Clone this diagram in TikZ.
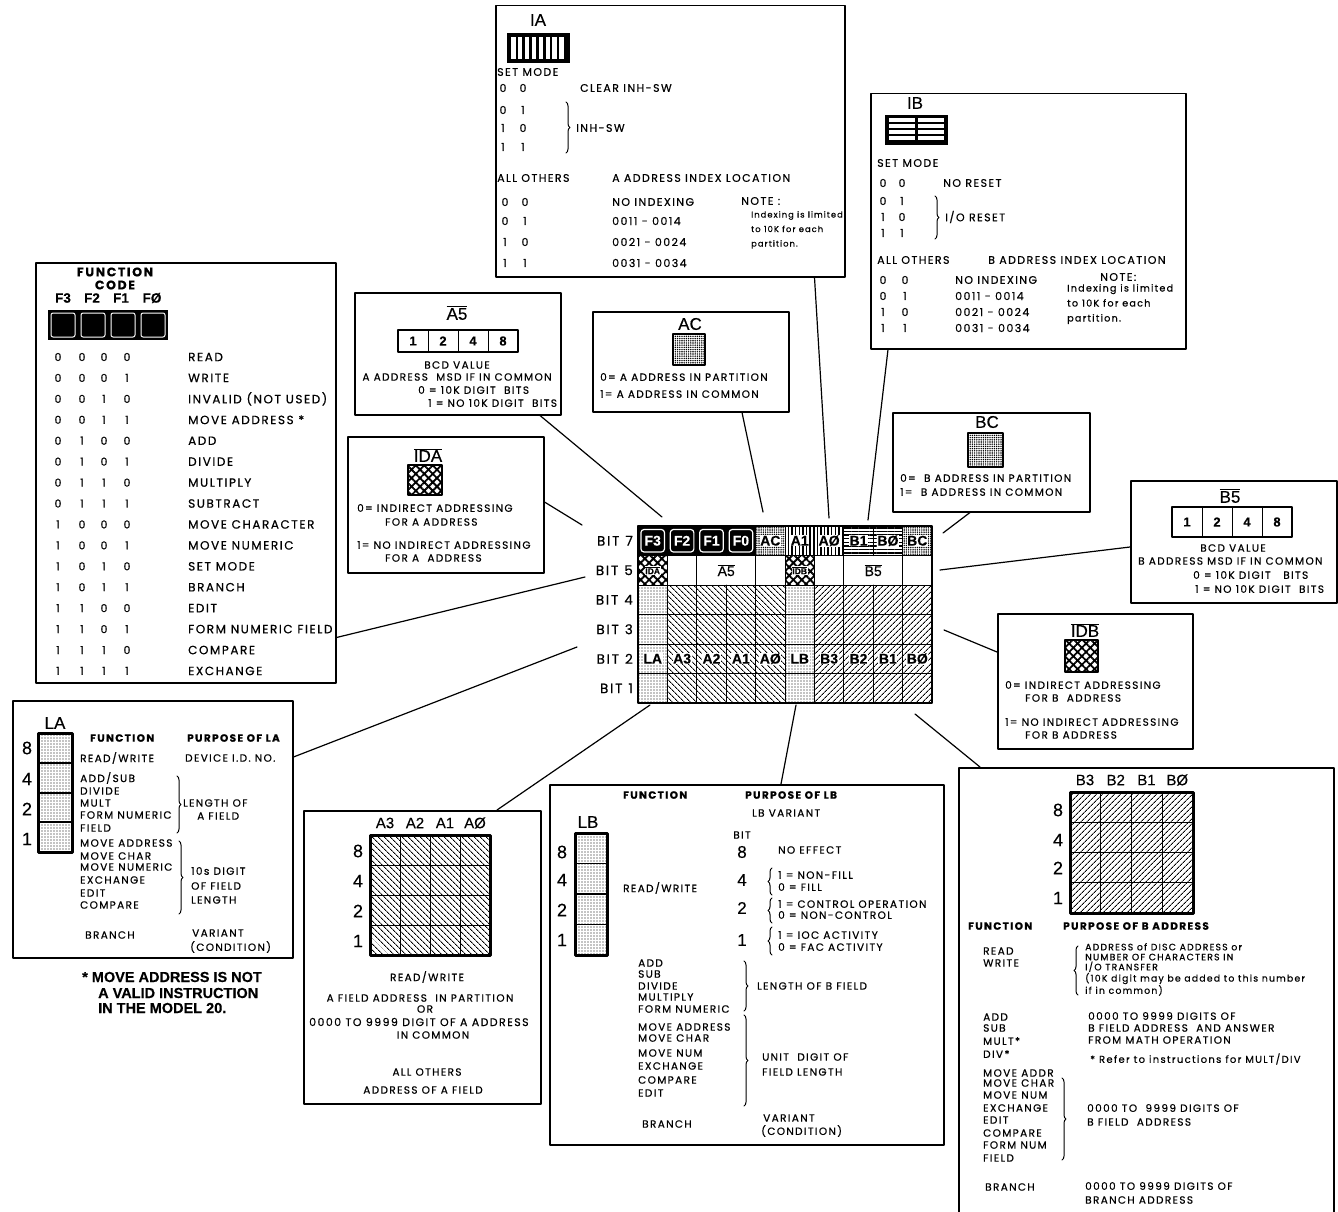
\documentclass[tikz,border=0pt]{standalone}
\usepackage{fontspec}
\setmainfont[LetterSpace=13,FakeBold=0.5]{Poppins}
\newfontfamily\hv[FakeBold=0.3]{Liberation Sans}
\usetikzlibrary{patterns.meta,decorations.pathreplacing}

\tikzset{
  box/.style={draw,line width=1.5pt,inner sep=0pt,anchor=north west},
  txt/.style={font=\fontsize{11}{12}\selectfont,inner sep=0pt,anchor=west},
  ctxt/.style={txt,anchor=center},
  ftxt/.style={font=\fontsize{12}{13}\selectfont,inner sep=0pt,anchor=west},
  stxt/.style={font=\fontsize{10.5}{12}\selectfont,inner sep=0pt,anchor=west},
  note/.style={font=\fontsize{9.6}{15}\selectfont,inner sep=0pt,anchor=north west,align=left},
  head/.style={font=\fontsize{10.5}{12}\selectfont\bfseries,inner sep=0pt,anchor=west},
  lbl/.style={font=\hv\fontsize{17}{17}\selectfont,inner sep=0pt},
  num/.style={font=\hv\fontsize{18}{18}\selectfont,inner sep=0pt},
  dig/.style={font=\hv\bfseries\fontsize{13}{13}\selectfont,inner sep=0pt},
  cell/.style={font=\hv\bfseries\fontsize{14}{14}\selectfont,inner sep=0.5pt},
  foot/.style={font=\hv\bfseries\fontsize{14.5}{15}\selectfont,inner sep=0pt,anchor=west},
  lead/.style={line width=1.2pt},
  thin/.style={line width=1pt},
  frame/.style={line width=2.6pt},
  hatchA/.style={pattern={Lines[angle=-45,distance=4pt,line width=1pt]}},
  hatchB/.style={pattern={Lines[angle=45,distance=4pt,line width=1pt]}},
  dotfill/.style={pattern={Dots[radius=0.6pt,distance=3pt]}},
  stipple/.style={pattern={Dots[radius=0.8pt,distance=2.2pt]}},
  xhatch/.style={pattern={Hatch[angle=45,distance=6pt,line width=1.8pt]}},
  vlines/.style={pattern={Lines[angle=90,distance=3.6pt,line width=1.4pt]}},
  hlines/.style={pattern={Lines[angle=0,distance=3.6pt,line width=1.4pt]}},
  rbrace/.style={decorate,decoration={brace,amplitude=4pt},line width=1pt}
}

\begin{document}
\begin{tikzpicture}[x=1pt,y=-1pt,line cap=round,line join=round]
\path[use as bounding box,fill=white] (0,0) rectangle (1338,1212);

% boxes
\node[box,minimum width=300pt,minimum height=420pt] (fcode) at (35,262) {};
\node[box,minimum width=349pt,minimum height=271pt] (ia) at (495,5) {};
\node[box,minimum width=315pt,minimum height=255pt] (ib) at (870,93) {};
\node[box,minimum width=206pt,minimum height=122pt] (afive) at (354,292) {};
\node[box,minimum width=196pt,minimum height=100pt] (ac) at (592,311) {};
\node[box,minimum width=196pt,minimum height=136pt] (ida) at (347,436) {};
\node[box,minimum width=197pt,minimum height=99pt] (bc) at (892,412) {};
\node[box,minimum width=206pt,minimum height=122pt] (bfive) at (1130,480) {};
\node[box,minimum width=195pt,minimum height=135pt] (idb) at (997,613) {};
\node[box,minimum width=280pt,minimum height=257pt] (la) at (12,700) {};
\node[box,minimum width=237pt,minimum height=293pt] (abox) at (303,810) {};
\node[box,minimum width=394pt,minimum height=360pt] (lb) at (549,784) {};
\node[box,minimum width=375pt,minimum height=470pt] (bbox) at (958,767) {};

% central layout
\begin{scope}[shift={(638,526)},x=29.4pt,y=-29.5pt]
  \fill[dotfill] (0,2) rectangle (1,6) (5,2) rectangle (6,6);
  \fill[hatchA] (1,2) rectangle (5,6);
  \fill[hatchB] (6,2) rectangle (10,6);
  \fill (0,0) rectangle (4,1);
  \foreach \i in {0,...,3}
    \draw[white,line width=1.2pt,rounded corners=3pt] (\i+0.1,0.12) rectangle (\i+0.9,0.88);
  \fill[stipple] (4,0) rectangle (5,1) (9,0) rectangle (10,1);
  \fill[vlines] (5,0) rectangle (7,1);
  \fill[hlines] (7,0) rectangle (9,1);
  \fill[xhatch] (0,1) rectangle (1,2) (5,1) rectangle (6,2);
  \foreach \i in {1,...,9} \draw[thin] (\i,0) -- (\i,1) (\i,2) -- (\i,6);
  \foreach \i in {1,2,4,5,6,7,9} \draw[thin] (\i,1) -- (\i,2);
  \foreach \j in {1,...,5} \draw[thin] (0,\j) -- (10,\j);
  \draw[frame] (0,0) rectangle (10,6);
  \foreach \s [count=\i from 0] in {F3,F2,F1,F0}
    \node[cell,text=white] (g\s) at (\i+0.5,0.5) {\s};
  \foreach \s/\n/\c in {AC/gac/4,A1/gia1/5,AØ/gia0/6,B1/gib1/7,BØ/gib0/8,BC/gbc/9}
    \node[cell,fill=white] (\n) at (\c+0.5,0.5) {\s};
  \node[cell,fill=white,font=\hv\bfseries\fontsize{8.5}{8.5}\selectfont] (gida) at (0.5,1.5) {$\overline{\mbox{IDA}}$};
  \node[cell,fill=white,font=\hv\bfseries\fontsize{8.5}{8.5}\selectfont] (gidb) at (5.5,1.5) {$\overline{\mbox{IDB}}$};
  \node[cell,font=\hv\fontsize{14}{14}\selectfont] (ga5) at (3,1.5) {$\overline{\mbox{A5}}$};
  \node[cell,font=\hv\fontsize{14}{14}\selectfont] (gb5) at (8,1.5) {$\overline{\mbox{B5}}$};
  \foreach \s/\n [count=\i from 0] in {LA/la,A3/a3,A2/a2,A1/a1,AØ/a0,LB/lb,B3/b3,B2/b2,B1/b1,BØ/b0}
    \node[cell,fill=white] (r\n) at (\i+0.5,4.5) {\s};
\end{scope}
\foreach \b [count=\j from 0] in {7,5,4,3,2,1}
  \node[font=\fontsize{13.5}{14}\selectfont,inner sep=0pt,anchor=east] (bit\b) at (633,{526+29.5*(\j+0.5)}) {BIT\hspace{6pt}\b};

% function code
\node[font=\fontsize{12.5}{13}\selectfont\bfseries,inner sep=0pt] (fchead) at (115,272) {FUNCTION};
\node[font=\fontsize{12.5}{13}\selectfont\bfseries,inner sep=0pt] (fccode) at (115,285) {CODE};
\foreach \s/\n/\x in {F3/3/63,F2/2/92,F1/1/121,FØ/0/152}
  \node[font=\hv\bfseries\fontsize{13.5}{14}\selectfont,inner sep=0pt] (fcf\n) at (\x,298) {\s};
\fill (48,310) rectangle (168,340);
\foreach \i in {0,...,3}
  \draw[white,line width=1pt,rounded corners=2pt] ({51+30*\i},313) rectangle ++(24,24);
\foreach \a/\b/\c/\d/\f [count=\k from 0] in {
  0/0/0/0/READ, 0/0/0/1/WRITE, 0/0/1/0/INVALID (NOT USED), 0/0/1/1/MOVE ADDRESS *,
  0/1/0/0/ADD, 0/1/0/1/DIVIDE, 0/1/1/0/MULTIPLY, 0/1/1/1/SUBTRACT,
  1/0/0/0/MOVE CHARACTER, 1/0/0/1/MOVE NUMERIC, 1/0/1/0/SET MODE, 1/0/1/1/BRANCH,
  1/1/0/0/EDIT, 1/1/0/1/FORM NUMERIC FIELD, 1/1/1/0/COMPARE, 1/1/1/1/EXCHANGE}
{
  \pgfmathsetmacro\yy{357+20.93*\k}
  \node[ctxt] (fa\k) at (58,\yy) {\a};
  \node[ctxt] (fb\k) at (82,\yy) {\b};
  \node[ctxt] (fc\k) at (104,\yy) {\c};
  \node[ctxt] (fd\k) at (127,\yy) {\d};
  \node[ftxt] (fn\k) at (188,\yy) {\f};
}

% IA
\node[lbl] (ialbl) at (538,20) {IA};
\fill (507,33) rectangle (570,63);
\foreach \i in {0,...,7} \fill[white] ({511+6.9*\i},37) rectangle ++(4.5,22);
\node[txt] (iaset) at (497,72) {SET MODE};
\foreach \a/\b/\y [count=\k] in {0/0/88,0/1/110,1/0/128,1/1/147}{
  \node[ctxt] (iaa\k) at (503,\y) {\a};
  \node[ctxt] (iab\k) at (523,\y) {\b};}
\node[txt] (iaclr) at (580,88) {CLEAR INH-SW};
\draw[rbrace] (566,102) -- (566,153);
\node[txt] (iainh) at (576,128) {INH-SW};
\node[txt] (iaall) at (497,178) {ALL OTHERS};
\node[txt] (iaidx) at (612,178) {A ADDRESS INDEX LOCATION};
\foreach \a/\b/\y/\s [count=\k] in {0/0/202/NO INDEXING,0/1/221/0011 - 0014,1/0/242/0021 - 0024,1/1/263/0031 - 0034}{
  \node[ctxt] (iac\k) at (505,\y) {\a};
  \node[ctxt] (iad\k) at (525,\y) {\b};
  \node[txt] (ial\k) at (612,\y) {\s};}
\node[txt] (ianote) at (741,201) {NOTE :};
\node[note,font=\fontsize{8.3}{14.5}\selectfont] (iatxt) at (751,211) {Indexing is limited\\to 10K for each\\partition.};

% IB
\node[lbl] (iblbl) at (915,103) {IB};
\fill (885,115) rectangle (948,145);
\foreach \x in {889,918} \foreach \i in {0,...,3} \fill[white] (\x,{118+6*\i}) rectangle ++(26,4.5);
\node[txt] (ibset) at (877,163) {SET MODE};
\foreach \a/\b/\y [count=\k] in {0/0/183,0/1/201,1/0/217,1/1/233}{
  \node[ctxt] (iba\k) at (883,\y) {\a};
  \node[ctxt] (ibb\k) at (902,\y) {\b};}
\node[txt] (ibno) at (943,183) {NO RESET};
\draw[rbrace] (935,196) -- (935,239);
\node[txt] (ibio) at (945,217) {I/O RESET};
\node[txt] (iball) at (877,260) {ALL OTHERS};
\node[txt] (ibidx) at (988,260) {B ADDRESS INDEX LOCATION};
\foreach \a/\b/\y/\s [count=\k] in {0/0/280/NO INDEXING,0/1/296/0011 - 0014,1/0/312/0021 - 0024,1/1/328/0031 - 0034}{
  \node[ctxt] (ibc\k) at (883,\y) {\a};
  \node[ctxt] (ibd\k) at (905,\y) {\b};
  \node[txt] (ibl\k) at (955,\y) {\s};}
\node[txt] (ibnote) at (1100,277) {NOTE:};
\node[note] (ibtxt) at (1067,284) {Indexing is limited\\to 10K for each\\partition.};

% A5
\node[lbl] (a5lbl) at (457,313) {$\overline{\mbox{A5}}$};
\draw[line width=2.4pt] (398,330) rectangle (518,352);
\foreach \x in {428,458,488} \draw[thin] (\x,330) -- (\x,352);
\foreach \d [count=\k] in {1,2,4,8} \node[dig] (a5d\d) at ({383+30*\k},341) {\d};
\node[stxt,anchor=center] (a5bcd) at (457,365) {BCD VALUE};
\node[stxt,anchor=center] (a5msd) at (457,377) {A ADDRESS \ MSD IF IN COMMON};
\node[stxt] (a5z) at (418,390) {0 = 10K DIGIT \ BITS};
\node[stxt] (a5o) at (428,403) {1 = NO 10K DIGIT \ BITS};

% AC
\node[lbl] (aclbl) at (690,324) {AC};
\fill[stipple] (673,334) rectangle (705,365);
\draw[frame] (673,334) rectangle (705,365);
\node[stxt] (ac0) at (600,377) {0= A ADDRESS IN PARTITION};
\node[stxt] (ac1) at (600,394) {1= A ADDRESS IN COMMON};

% IDA
\node[lbl] (idalbl) at (428,455) {$\overline{\mbox{IDA}}$};
\fill[xhatch] (408,465) rectangle (442,495);
\draw[frame] (408,465) rectangle (442,495);
\node[stxt] (ida0) at (357,508) {0= INDIRECT ADDRESSING};
\node[stxt] (ida0b) at (385,522) {FOR A ADDRESS};
\node[stxt] (ida1) at (357,545) {1= NO INDIRECT ADDRESSING};
\node[stxt] (ida1b) at (385,558) {FOR A \ ADDRESS};

% BC
\node[lbl] (bclbl) at (987,422) {BC};
\fill[stipple] (968,433) rectangle (1003,467);
\draw[frame] (968,433) rectangle (1003,467);
\node[stxt] (bc0) at (900,478) {0= \ B ADDRESS IN PARTITION};
\node[stxt] (bc1) at (900,492) {1= \ B ADDRESS IN COMMON};

% B5
\node[lbl] (b5lbl) at (1230,496) {$\overline{\mbox{B5}}$};
\draw[line width=2.4pt] (1172,507) rectangle (1292,537);
\foreach \x in {1202,1232,1262} \draw[thin] (\x,507) -- (\x,537);
\foreach \d [count=\k] in {1,2,4,8} \node[dig] (b5d\d) at ({1157+30*\k},522) {\d};
\node[stxt,anchor=center] (b5bcd) at (1233,548) {BCD VALUE};
\node[stxt] (b5msd) at (1138,561) {B ADDRESS MSD IF IN COMMON};
\node[stxt] (b5z) at (1193,575) {0 = 10K DIGIT \ \ BITS};
\node[stxt] (b5o) at (1195,589) {1 = NO 10K DIGIT \ BITS};

% IDB
\node[lbl] (idblbl) at (1085,630) {$\overline{\mbox{IDB}}$};
\fill[xhatch] (1065,640) rectangle (1098,672);
\draw[frame] (1065,640) rectangle (1098,672);
\node[stxt] (idb0) at (1005,685) {0= INDIRECT ADDRESSING};
\node[stxt] (idb0b) at (1025,698) {FOR B \ ADDRESS};
\node[stxt] (idb1) at (1005,722) {1= NO INDIRECT ADDRESSING};
\node[stxt] (idb1b) at (1025,735) {FOR B ADDRESS};

% LA
\node[lbl] (lalbl) at (55,723) {LA};
\fill[dotfill] (38,733) rectangle (72,852);
\foreach \y in {763,793,822} \draw[line width=1.6pt] (38,\y) -- (72,\y);
\draw[line width=3pt] (38,733) rectangle (72,852);
\foreach \n/\y in {8/748,4/779,2/809,1/839} \node[num] (lan\n) at (27,\y) {\n};
\node[head] (lafn) at (90,738) {FUNCTION};
\node[head] (lapp) at (187,738) {PURPOSE OF LA};
\node[stxt] (larw) at (80,758) {READ/WRITE};
\node[stxt] (ladev) at (185,758) {DEVICE I.D. NO.};
\foreach \s/\y [count=\k] in {{ADD/SUB}/778,DIVIDE/791,MULT/803,FORM NUMERIC/815,FIELD/828}
  \node[stxt] (laf\k) at (80,\y) {\s};
\draw[rbrace] (177,776) -- (177,833);
\node[stxt] (lalen) at (183,803) {LENGTH OF};
\node[stxt] (laaf) at (197,816) {A FIELD};
\foreach \s/\y [count=\k] in {MOVE ADDRESS/843,MOVE CHAR/856,MOVE NUMERIC/867,EXCHANGE/880,EDIT/893,COMPARE/905}
  \node[stxt] (lam\k) at (80,\y) {\s};
\draw[rbrace] (179,841) -- (179,914);
\node[stxt] (la10) at (191,871) {10s DIGIT};
\node[stxt] (laof) at (191,886) {OF FIELD};
\node[stxt] (lalg) at (191,900) {LENGTH};
\node[stxt] (labr) at (85,935) {BRANCH};
\node[stxt] (lavar) at (192,933) {VARIANT};
\node[stxt] (lacond) at (190,947) {(CONDITION)};
\node[foot] (ft1) at (82,977) {* MOVE ADDRESS IS NOT};
\node[foot] (ft2) at (98,993) {A VALID INSTRUCTION};
\node[foot] (ft3) at (98,1008) {IN THE MODEL 20.};

% A3..A0
\foreach \s [count=\k from 0] in {A3,A2,A1,AØ} \node[lbl,font=\hv\fontsize{15}{15}\selectfont] (acol\k) at ({385+30*\k},823) {\s};
\fill[hatchA] (370,835) rectangle (490,955);
\foreach \v in {30,60,90} \draw[thin] (370,835+\v) -- (490,835+\v) (370+\v,835) -- (370+\v,955);
\draw[line width=3pt] (370,835) rectangle (490,955);
\foreach \n/\y in {8/851,4/881,2/911,1/941} \node[num] (an\n) at (358,\y) {\n};
\node[stxt,anchor=center] (arw) at (427,977) {READ/WRITE};
\node[stxt,anchor=center] (afp) at (420,998) {A FIELD ADDRESS \ IN PARTITION};
\node[stxt,anchor=center] (aor) at (425,1009) {OR};
\node[stxt,font=\fontsize{11}{12}\selectfont] (a99) at (309,1022) {0000 TO 9999 DIGIT OF A ADDRESS};
\node[stxt,anchor=center] (aic) at (433,1035) {IN COMMON};
\node[stxt,anchor=center] (aall) at (427,1072) {ALL OTHERS};
\node[stxt,anchor=center] (aadr) at (423,1090) {ADDRESS OF A FIELD};

% LB
\node[head] (lbfn) at (623,795) {FUNCTION};
\node[head] (lbpp) at (745,795) {PURPOSE OF LB};
\node[stxt] (lbvar) at (752,813) {LB VARIANT};
\node[lbl] (lblbl) at (588,822) {LB};
\fill[dotfill] (575,833) rectangle (607,955);
\foreach \y in {863.5,894,924.5} \draw[line width=1.6pt] (575,\y) -- (607,\y);
\draw[line width=3pt] (575,833) rectangle (607,955);
\foreach \n/\y in {8/852,4/880,2/910,1/940} \node[num] (lbn\n) at (562,\y) {\n};
\node[stxt] (lbrw) at (623,888) {READ/WRITE};
\node[stxt,anchor=center] (lbbit) at (742,835) {BIT};
\foreach \n/\y in {8/852,4/880,2/908,1/940} \node[num,font=\hv\fontsize{17}{17}\selectfont] (lbb\n) at (742,\y) {\n};
\node[stxt] (lbno) at (778,850) {NO EFFECT};
\draw[rbrace] (772,895) -- (772,868);
\draw[rbrace] (772,923) -- (772,898);
\draw[rbrace] (772,955) -- (772,927);
\foreach \s/\y [count=\k] in {1 = NON-FILL/875,0 = FILL/887,1 = CONTROL OPERATION/904,0 = NON-CONTROL/915,1 = IOC ACTIVITY/935,0 = FAC ACTIVITY/947}
  \node[stxt] (lbv\k) at (778,\y) {\s};
\foreach \s/\y [count=\k] in {ADD/963,SUB/974,DIVIDE/986,MULTIPLY/997,FORM NUMERIC/1009}
  \node[stxt] (lbm\k) at (638,\y) {\s};
\draw[rbrace] (744,961) -- (744,1011);
\node[stxt] (lblen) at (757,986) {LENGTH OF B FIELD};
\foreach \s/\y [count=\k] in {MOVE ADDRESS/1027,MOVE CHAR/1038,MOVE NUM/1053,EXCHANGE/1066,COMPARE/1080,EDIT/1093}
  \node[stxt] (lbo\k) at (638,\y) {\s};
\draw[rbrace] (744,1015) -- (744,1106);
\node[stxt] (lbu) at (762,1057) {UNIT \ DIGIT OF};
\node[stxt] (lbfl) at (762,1072) {FIELD LENGTH};
\node[stxt] (lbbr) at (642,1124) {BRANCH};
\node[stxt] (lbvv) at (763,1118) {VARIANT};
\node[stxt] (lbcd) at (761,1131) {(CONDITION)};

% B3..B0
\foreach \s [count=\k from 0] in {B3,B2,B1,BØ} \node[lbl,font=\hv\fontsize{15}{15}\selectfont] (bcol\k) at ({1085+30.75*\k},780) {\s};
\fill[hatchB] (1070,792) rectangle (1193,913);
\foreach \k in {1,2,3} \draw[thin] (1070,{792+30.25*\k}) -- (1193,{792+30.25*\k}) ({1070+30.75*\k},792) -- ({1070+30.75*\k},913);
\draw[line width=3pt] (1070,792) rectangle (1193,913);
\foreach \n/\y in {8/810,4/840,2/868,1/898} \node[num] (bn\n) at (1058,\y) {\n};
\node[head] (bfn) at (968,926) {FUNCTION};
\node[head] (bpp) at (1063,926) {PURPOSE OF B ADDRESS};
\node[stxt] (brd) at (983,951) {READ};
\node[stxt] (bwr) at (983,963) {WRITE};
\draw[rbrace] (1078,995) -- (1078,946);
\node[note,font=\fontsize{9.3}{10}\selectfont] (bdisc) at (1085,943) {ADDRESS of DISC ADDRESS or\\NUMBER OF CHARACTERS IN\\I/O TRANSFER\\(10K digit may be added to this number\\if in common)};
\foreach \s/\y [count=\k] in {ADD/1017,SUB/1028,MULT*/1041,DIV*/1054}
  \node[stxt] (bm\k) at (983,\y) {\s};
\node[stxt] (bd1) at (1088,1016) {0000 TO 9999 DIGITS OF};
\node[stxt] (bd2) at (1088,1028) {B FIELD ADDRESS \ AND ANSWER};
\node[stxt] (bd3) at (1088,1040) {FROM MATH OPERATION};
\node[note,anchor=west,font=\fontsize{10}{11}\selectfont] (bref) at (1090,1059) {* Refer to instructions for MULT/DIV};
\foreach \s/\y [count=\k] in {MOVE ADDR/1073,MOVE CHAR/1083,MOVE NUM/1095,EXCHANGE/1108,EDIT/1120,COMPARE/1133,FORM NUM/1145,FIELD/1158}
  \node[stxt] (bo\k) at (983,\y) {\s};
\draw[rbrace] (1062,1078) -- (1062,1160);
\node[stxt] (bf1) at (1087,1108) {0000 TO \ 9999 DIGITS OF};
\node[stxt] (bf2) at (1087,1122) {B FIELD \ ADDRESS};
\node[stxt] (bbr) at (985,1187) {BRANCH};
\node[stxt] (bbr1) at (1085,1186) {0000 TO 9999 DIGITS OF};
\node[stxt] (bbr2) at (1085,1200) {BRANCH ADDRESS};

% leaders
\coordinate (pfc) at (585,577);
\coordinate (pla) at (577,647);
\coordinate (pa) at (650,705);
\coordinate (plb) at (796,705);
\coordinate (pb) at (915,714);
\coordinate (pidb) at (944,630);
\coordinate (pb5) at (940,570);
\coordinate (pbc) at (943,533);
\coordinate (pib) at (868,520);
\coordinate (pia) at (829,518);
\coordinate (pac) at (763,512);
\coordinate (pa5) at (662,517);
\coordinate (pida) at (582,525);
\draw[lead] ([shift={(0,-46)}]fcode.south east) -- (pfc);
\draw[lead] ([shift={(0,57)}]la.north east) -- (pla);
\draw[lead] ([shift={(194,0)}]abox.north west) -- (pa);
\draw[lead] ([shift={(232,0)}]lb.north west) -- (plb);
\draw[lead] ([shift={(22,0)}]bbox.north west) -- (pb);
\draw[lead] ([shift={(0,39)}]idb.north west) -- (pidb);
\draw[lead] ([shift={(0,67)}]bfive.north west) -- (pb5);
\draw[lead] ([shift={(78,0)}]bc.south west) -- (pbc);
\draw[lead] ([shift={(18,0)}]ib.south west) -- (pib);
\draw[lead] ([shift={(-31,0)}]ia.south east) -- (pia);
\draw[lead] ([shift={(150,0)}]ac.south west) -- (pac);
\draw[lead] ([shift={(186,0)}]afive.south west) -- (pa5);
\draw[lead] ([shift={(0,66)}]ida.north east) -- (pida);
\end{tikzpicture}
\end{document}
